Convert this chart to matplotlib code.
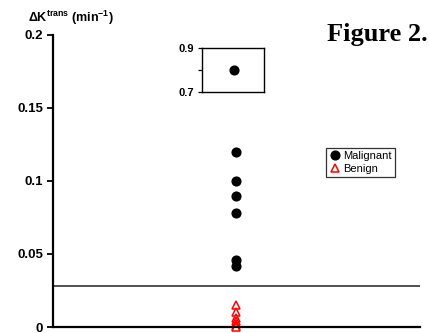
import numpy as np
import matplotlib.pyplot as plt

plt.rcParams['font.family'] = ['Liberation Sans', 'DejaVu Sans']
plt.rcParams['mathtext.fontset'] = 'custom'
plt.rcParams['mathtext.rm'] = 'Liberation Sans:bold'
plt.rcParams['mathtext.bf'] = 'Liberation Sans:bold'
plt.rcParams['mathtext.it'] = 'Liberation Sans:bold'
plt.rcParams['mathtext.default'] = 'bf'

# -------- Data --------
malignant = np.array([0.80, 0.120, 0.100, 0.090, 0.078, 0.046, 0.042])
benign = np.array([0.015, 0.010, 0.006, 0.004, 0.002, 0.001, 0.0])
threshold = 0.028
main_ticks = [0, 0.05, 0.1, 0.15, 0.2]
main_labels = ['0', '0.05', '0.1', '0.15', '0.2']
inset_ticks = [0.7, 0.8, 0.9]
inset_labels = ['0.7', '', '0.9']

fig = plt.figure(figsize=(4.29, 3.33), dpi=100)

# -------- Main axes --------
ax = fig.add_axes([0.1235, 0.018, 0.855, 0.877])
low = malignant[malignant < 0.2]
ax.plot(np.full(len(low), 0.5), low, 'o', color='black', markersize=6.3, label='Malignant')
ax.plot(np.full(len(benign), 0.5), benign, '^', markerfacecolor='white', markeredgecolor='red',
        markeredgewidth=1.1, markersize=6.3, label='Benign', clip_on=False)
ax.axhline(threshold, color='#333333', linewidth=1.2)

ax.set_xlim(0, 1)
ax.set_ylim(0, 0.2)
ax.set_yticks(main_ticks)
ax.set_yticklabels(main_labels, fontsize=9.5, fontweight='bold')
ax.set_xticks([])
ax.spines['top'].set_visible(False)
ax.spines['right'].set_visible(False)
ax.spines['left'].set_linewidth(1.6)
ax.spines['bottom'].set_linewidth(1.6)
ax.tick_params(axis='y', direction='out', length=4, width=1.3, pad=3)
for lab in ax.get_yticklabels():
    lab.set_verticalalignment('center_baseline')

leg = ax.legend(loc='upper left', bbox_to_anchor=(0.76, 0.556), bbox_transform=fig.transFigure,
                fontsize=8, frameon=True, fancybox=False, handletextpad=0.2,
                borderpad=0.3, labelspacing=0.25, handlelength=1.0, borderaxespad=0)
leg.get_frame().set_edgecolor('black')
leg.get_frame().set_linewidth(0.9)

# -------- Inset axes for the high value --------
axin = fig.add_axes([0.471, 0.723, 0.1445, 0.132])
high = malignant[malignant > 0.2]
axin.plot(np.full(len(high), 0.52), high, 'o', color='black', markersize=6.3)
axin.set_xlim(0, 1)
axin.set_ylim(0.7, 0.9)
axin.set_yticks(inset_ticks)
axin.set_yticklabels(inset_labels, fontsize=8, fontweight='bold')
axin.set_xticks([])
for s in axin.spines.values():
    s.set_linewidth(1.0)
axin.tick_params(axis='y', direction='out', length=3, width=0.9, pad=3)

# -------- Texts --------
fig.text(0.065, 0.934, r'$\Delta K^{trans}$ (min$^{-1}$)', fontsize=9, fontweight='bold')
fig.text(0.762, 0.878, 'Figure 2.', fontsize=19, fontweight='bold', family='Liberation Serif')

fig.savefig('out.png', dpi=100)
